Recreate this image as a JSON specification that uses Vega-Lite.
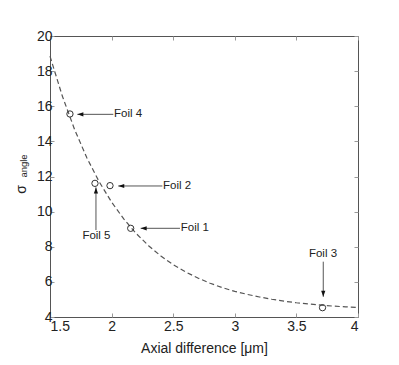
{
  "$schema": "https://vega.github.io/schema/vega-lite/v6.json",
  "autosize": {"type": "none"},
  "width": 308,
  "height": 281,
  "padding": {"left": 50, "top": 36, "right": 41, "bottom": 48},
  "background": "white",
  "config": {
    "view": {"stroke": "#555555", "strokeWidth": 1},
    "font": "Liberation Sans",
    "axis": {"domain": false, "grid": false, "labelFont": "Liberation Sans", "titleFont": "Liberation Sans", "labelColor": "#222222", "titleColor": "#222222", "tickColor": "#999999", "labelFontSize": 14, "titleFontSize": 14, "titleFontWeight": "normal"}
  },
  "datasets": {
    "curve": [
      {"x": 1.5, "y": 18.85}, {"x": 1.6, "y": 16.58}, {"x": 1.7, "y": 14.67}, {"x": 1.8, "y": 13.05},
      {"x": 1.9, "y": 11.69}, {"x": 2.0, "y": 10.54}, {"x": 2.1, "y": 9.57}, {"x": 2.2, "y": 8.75},
      {"x": 2.3, "y": 8.06}, {"x": 2.4, "y": 7.47}, {"x": 2.5, "y": 6.98}, {"x": 2.6, "y": 6.57},
      {"x": 2.7, "y": 6.22}, {"x": 2.8, "y": 5.92}, {"x": 2.9, "y": 5.67}, {"x": 3.0, "y": 5.46},
      {"x": 3.1, "y": 5.29}, {"x": 3.2, "y": 5.14}, {"x": 3.3, "y": 5.01}, {"x": 3.4, "y": 4.9},
      {"x": 3.5, "y": 4.81}, {"x": 3.6, "y": 4.74}, {"x": 3.7, "y": 4.68}, {"x": 3.8, "y": 4.62},
      {"x": 3.9, "y": 4.58}, {"x": 4.0, "y": 4.54}
    ],
    "foils": [
      {"foil": "Foil 1", "x": 2.155, "y": 9.05},
      {"foil": "Foil 2", "x": 1.987, "y": 11.48},
      {"foil": "Foil 3", "x": 3.712, "y": 4.53},
      {"foil": "Foil 4", "x": 1.662, "y": 15.56},
      {"foil": "Foil 5", "x": 1.865, "y": 11.61}
    ],
    "arrows": [
      {"label": "Foil 4", "dir": "left", "tipx": 1.722, "tipy": 15.54, "endx": 2.014, "endy": 15.54, "tx": 2.02, "ty": 15.54},
      {"label": "Foil 2", "dir": "left", "tipx": 2.054, "tipy": 11.46, "endx": 2.412, "endy": 11.46, "tx": 2.418, "ty": 11.46},
      {"label": "Foil 1", "dir": "left", "tipx": 2.236, "tipy": 9.05, "endx": 2.555, "endy": 9.05, "tx": 2.561, "ty": 9.05},
      {"label": "Foil 5", "dir": "up", "tipx": 1.873, "tipy": 11.38, "endx": 1.873, "endy": 8.95, "tx": 1.877, "ty": 8.61},
      {"label": "Foil 3", "dir": "down", "tipx": 3.718, "tipy": 5.15, "endx": 3.718, "endy": 7.15, "tx": 3.716, "ty": 7.59}
    ],
    "ylabel": [
      {"t": "angle", "x": 1.285, "y": 12.6}
    ]
  },
  "layer": [
    {
      "data": {"name": "curve"},
      "mark": {"type": "line", "color": "#555555", "strokeWidth": 1.2, "strokeDash": [5, 3]},
      "encoding": {
        "x": {"field": "x", "type": "quantitative", "scale": {"domain": [1.5, 4], "nice": false, "zero": false},
              "axis": {"orient": "top", "labels": false, "title": null, "tickSize": -4, "values": [1.5, 2, 2.5, 3, 3.5, 4]}},
        "y": {"field": "y", "type": "quantitative", "scale": {"domain": [4, 20], "nice": false, "zero": false},
              "axis": {"orient": "right", "labels": false, "title": null, "tickSize": -4, "values": [4, 6, 8, 10, 12, 14, 16, 18, 20]}}
      }
    },
    {
      "data": {"name": "foils"},
      "mark": {"type": "point", "filled": false, "stroke": "#333333", "strokeWidth": 1, "size": 40, "opacity": 1},
      "encoding": {
        "x": {"field": "x", "type": "quantitative",
              "axis": {"orient": "bottom", "title": "Axial difference [μm]", "tickSize": -4, "labelPadding": 6, "titlePadding": 8, "format": "~g", "values": [1.5, 2, 2.5, 3, 3.5, 4]}},
        "y": {"field": "y", "type": "quantitative",
              "axis": {"orient": "left", "title": "σ", "titleFontSize": 14, "tickSize": -4, "labelPadding": 2, "titlePadding": 8, "titleY": 153, "format": "~g", "values": [4, 6, 8, 10, 12, 14, 16, 18, 20]}}
      }
    },
    {
      "data": {"name": "arrows"},
      "mark": {"type": "rule", "color": "#555555", "strokeWidth": 1},
      "encoding": {
        "x": {"field": "tipx", "type": "quantitative", "axis": null},
        "x2": {"field": "endx"},
        "y": {"field": "tipy", "type": "quantitative", "axis": null},
        "y2": {"field": "endy"}
      }
    },
    {
      "data": {"name": "arrows"},
      "transform": [{"filter": "datum.dir === 'left'"}],
      "mark": {"type": "point", "shape": "M0,0L2,-0.7L2,0.7Z", "filled": true, "color": "#111111", "size": 36, "opacity": 1},
      "encoding": {
        "x": {"field": "tipx", "type": "quantitative", "axis": null},
        "y": {"field": "tipy", "type": "quantitative", "axis": null}
      }
    },
    {
      "data": {"name": "arrows"},
      "transform": [{"filter": "datum.dir === 'up'"}],
      "mark": {"type": "point", "shape": "M0,0L-0.7,2L0.7,2Z", "filled": true, "color": "#111111", "size": 36, "opacity": 1},
      "encoding": {
        "x": {"field": "tipx", "type": "quantitative", "axis": null},
        "y": {"field": "tipy", "type": "quantitative", "axis": null}
      }
    },
    {
      "data": {"name": "arrows"},
      "transform": [{"filter": "datum.dir === 'down'"}],
      "mark": {"type": "point", "shape": "M0,0L-0.7,-2L0.7,-2Z", "filled": true, "color": "#111111", "size": 36, "opacity": 1},
      "encoding": {
        "x": {"field": "tipx", "type": "quantitative", "axis": null},
        "y": {"field": "tipy", "type": "quantitative", "axis": null}
      }
    },
    {
      "data": {"name": "arrows"},
      "transform": [{"filter": "datum.dir === 'left'"}],
      "mark": {"type": "text", "align": "left", "baseline": "middle", "fontSize": 11.5, "color": "#222222", "font": "Liberation Sans"},
      "encoding": {
        "x": {"field": "tx", "type": "quantitative", "axis": null},
        "y": {"field": "ty", "type": "quantitative", "axis": null},
        "text": {"field": "label"}
      }
    },
    {
      "data": {"name": "arrows"},
      "transform": [{"filter": "datum.dir !== 'left'"}],
      "mark": {"type": "text", "align": "center", "baseline": "middle", "fontSize": 11.5, "color": "#222222", "font": "Liberation Sans"},
      "encoding": {
        "x": {"field": "tx", "type": "quantitative", "axis": null},
        "y": {"field": "ty", "type": "quantitative", "axis": null},
        "text": {"field": "label"}
      }
    },
    {
      "data": {"name": "ylabel"},
      "mark": {"type": "text", "angle": 270, "align": "center", "baseline": "middle", "fontSize": 9.5, "color": "#222222", "font": "Liberation Sans", "clip": false},
      "encoding": {
        "x": {"field": "x", "type": "quantitative", "axis": null},
        "y": {"field": "y", "type": "quantitative", "axis": null},
        "text": {"field": "t"}
      }
    }
  ],
  "resolve": {"axis": {"x": "independent", "y": "independent"}}
}
